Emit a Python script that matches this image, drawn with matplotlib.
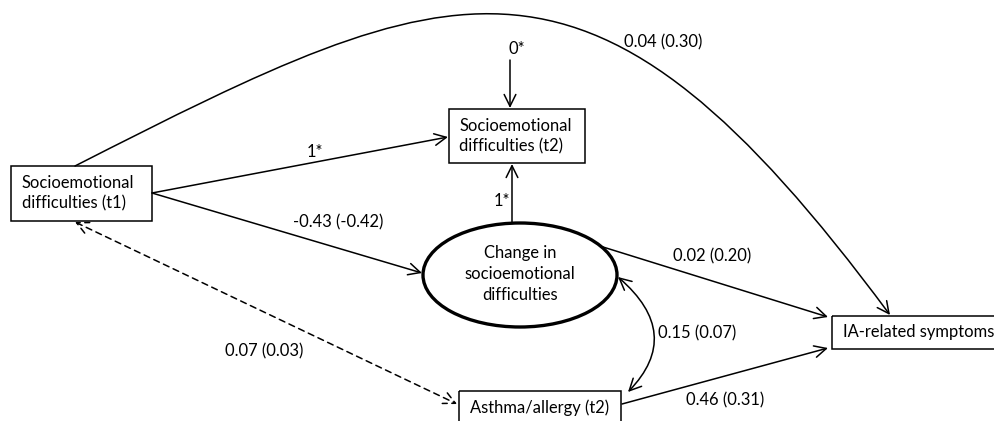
import matplotlib.pyplot as plt
from matplotlib.patches import Rectangle, Ellipse, FancyArrowPatch
from matplotlib.path import Path

# node labels
t1_label = "Socioemotional\ndifficulties (t1)"
t2_label = "Socioemotional\ndifficulties (t2)"
change_label = "Change in\nsocioemotional\ndifficulties"
asthma_label = "Asthma/allergy (t2)"
ia_label = "IA-related symptoms"

# path coefficients
coef_t1_t2 = "1*"
coef_t1_change = "-0.43 (-0.42)"
coef_t1_ia = "0.04 (0.30)"
coef_resid_t2 = "0*"
coef_change_t2 = "1*"
coef_change_ia = "0.02 (0.20)"
coef_change_asthma = "0.15 (0.07)"
coef_t1_asthma = "0.07 (0.03)"
coef_asthma_ia = "0.46 (0.31)"

plt.rcParams['font.family'] = ['Lato', 'DejaVu Sans']
FS = 11.9

fig = plt.figure(figsize=(9.94, 4.21), dpi=100)
ax = fig.add_axes([0, 0, 1, 1])
ax.set_xlim(0, 994)
ax.set_ylim(421, 0)
ax.axis('off')

lw = 1.1
head = "->,head_length=0.85,head_width=0.42"
both = "<->,head_length=0.85,head_width=0.42"


def box(x0, y0, x1, y1):
    ax.add_patch(Rectangle((x0, y0), x1 - x0, y1 - y0, fill=False,
                           edgecolor='black', linewidth=lw, zorder=3))


def arrow(p0, p1, style=head, ls='-'):
    ax.add_patch(FancyArrowPatch(p0, p1, arrowstyle=style, mutation_scale=10,
                                 shrinkA=0, shrinkB=0, linewidth=lw,
                                 linestyle=ls, color='black', zorder=2))


def curve(verts, codes, style=head):
    ax.add_patch(FancyArrowPatch(path=Path(verts, codes), arrowstyle=style,
                                 mutation_scale=10, linewidth=lw,
                                 color='black', zorder=2))


# boxes
box(11, 166, 152, 221)
box(449, 109, 585, 163)
box(459, 391, 621, 430)
box(832, 316, 1000, 349)
ax.add_patch(Ellipse((520, 275), 194, 104, fill=False, edgecolor='black',
                     linewidth=2.4, zorder=3))

ax.text(22, 193, t1_label, fontsize=FS, ha='left', va='center', linespacing=1.35)
ax.text(459, 136, t2_label, fontsize=FS, ha='left', va='center', linespacing=1.35)
ax.text(520, 274, change_label, fontsize=FS, ha='center', va='center', linespacing=1.35)
ax.text(540, 408, asthma_label, fontsize=FS, ha='center', va='center')
ax.text(843, 332, ia_label, fontsize=FS, ha='left', va='center')

# paths
arrow((152, 193), (448, 137))
arrow((152, 193), (422, 273))
arrow((510, 60), (510, 108))
arrow((512, 223), (512, 164))
arrow((603, 247), (828, 317))
arrow((622, 404), (828, 348))
arrow((75, 222), (457, 404), style=both, ls=(0, (4, 3)))

# long curve t1 -> IA
curve([(75, 166), (460, -30), (590, -90), (890, 315)],
      [Path.MOVETO, Path.CURVE4, Path.CURVE4, Path.CURVE4])
# covariance change <-> asthma
curve([(618, 277), (684, 334), (628, 392)],
      [Path.MOVETO, Path.CURVE3, Path.CURVE3], style=both)

# coefficient labels
ax.text(315, 152, coef_t1_t2, fontsize=FS, ha='center', va='center')
ax.text(338, 222, coef_t1_change, fontsize=FS, ha='center', va='center')
ax.text(663, 42, coef_t1_ia, fontsize=FS, ha='center', va='center')
ax.text(517, 49, coef_resid_t2, fontsize=FS, ha='center', va='center')
ax.text(502, 201, coef_change_t2, fontsize=FS, ha='center', va='center')
ax.text(712, 256, coef_change_ia, fontsize=FS, ha='center', va='center')
ax.text(697, 333, coef_change_asthma, fontsize=FS, ha='center', va='center')
ax.text(264, 351, coef_t1_asthma, fontsize=FS, ha='center', va='center')
ax.text(725, 400, coef_asthma_ia, fontsize=FS, ha='center', va='center')

fig.savefig("out.png", dpi=100)
